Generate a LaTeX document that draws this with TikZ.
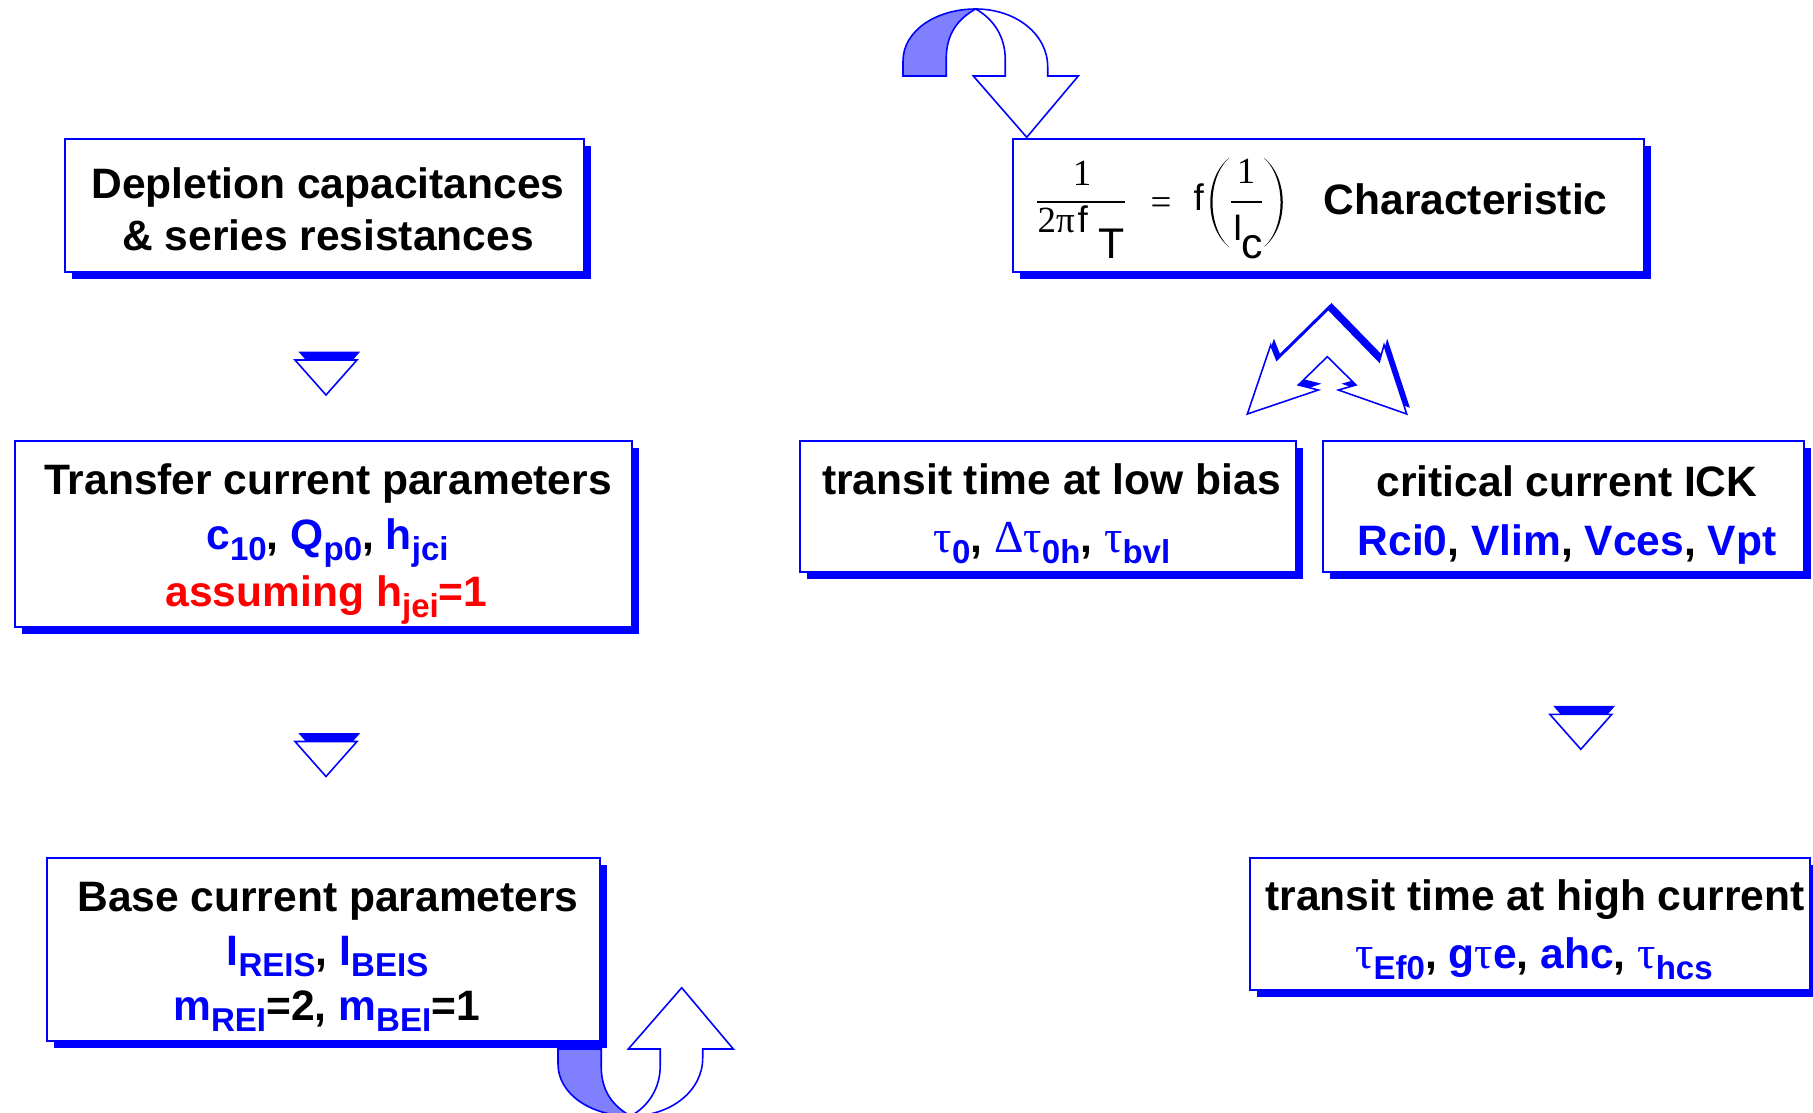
\documentclass[tikz,border=0pt]{standalone}
\usepackage{fontspec}
\setmainfont{Liberation Serif}
\setsansfont{Liberation Sans}
\usetikzlibrary{shadows}
\definecolor{pb}{RGB}{0,0,255}
\definecolor{lb}{RGB}{128,128,255}
\definecolor{pr}{RGB}{255,0,0}
\newcommand\sbs[1]{\raisebox{-3.3pt}{\fontsize{9.4}{10}\selectfont #1}}
\newcommand\gk[1]{{\rmfamily\mdseries\fontsize{13}{14}\selectfont #1}}
\newcommand\curvedarrowshape{%
  \filldraw[draw=pb, fill=lb, line width=0.45pt] (-72.7,67) -- (-72.7,52) .. controls (-72.7,22) and (-40,0) .. (0,0) .. controls (-18,10) and (-29.5,25) .. (-29.5,50) -- (-29.5,67) -- cycle;
  \filldraw[draw=pb, fill=white, line width=0.45pt] (0,0) .. controls (40,0) and (72,25) .. (72,58) -- (72,67) -- (102.6,67) -- (51,128.3) -- (-2.4,67) -- (29.5,67) -- (29.5,50) .. controls (29.5,28) and (18,10) .. (0,0) -- cycle;
}
\newcommand\downtri[2]{%
  \begin{scope}[shift={(#1,#2)}]
    \fill[pb] (-27.7,-8.5) -- (34.3,-8.5) -- (3.3,26.5) -- cycle;
    \filldraw[draw=pb, fill=white, line width=0.45pt] (-31,0) -- (31,0) -- (0,35) -- cycle;
  \end{scope}}
\newcommand\dblarrowpath{(1328.3,309.3) -- (1276.7,360) -- (1270.7,345) -- (1247.3,414) -- (1318.3,390) -- (1298.3,385) -- (1327.3,356.7) -- (1356,385) -- (1338.3,390) -- (1406.7,414) -- (1384,345) -- (1379.3,361.7) -- cycle}
\begin{document}
\begin{tikzpicture}[x=0.01cm,y=-0.01cm,
  box/.style={draw=pb, line width=0.45pt, fill=white, inner sep=0pt,
    general shadow={fill=pb, shadow xshift=0.07cm, shadow yshift=-0.07cm}},
  tl/.style={inner sep=0pt, anchor=base, font=\sffamily\bfseries\fontsize{12.1}{14.5}\selectfont},
  fs/.style={inner sep=0pt, font=\rmfamily\fontsize{10.5}{12}\selectfont},
  fa/.style={inner sep=0pt, font=\sffamily\fontsize{10.5}{12}\selectfont},
  fb/.style={inner sep=0pt, font=\sffamily\fontsize{12.2}{14}\selectfont},
]
\useasboundingbox (0,0) rectangle (1813,1112);
\fill[white] (0,0) rectangle (1813,1112);

% curved arrows
\begin{scope}[shift={(975.7,9)}]
  \curvedarrowshape
\end{scope}
\begin{scope}[shift={(630.7,1116)}, yscale=-1]
  \curvedarrowshape
\end{scope}

% double arrow
\begin{scope}[shift={(3.2,-6.3)}]
  \fill[pb] \dblarrowpath;
\end{scope}
\filldraw[draw=pb, fill=white, line width=0.45pt, line join=miter] \dblarrowpath;

% small down triangles
\downtri{326}{360}
\downtri{326}{741.5}
\downtri{1580.8}{714.3}

% boxes
\node[box, minimum width=5.19cm, minimum height=1.33cm] (dep) at (324.5,205.5) {};
\node[box, minimum width=6.31cm, minimum height=1.33cm] (chr) at (1328.5,205.5) {};
\node[box, minimum width=6.17cm, minimum height=1.86cm] (trf) at (323.5,534) {};
\node[box, minimum width=4.96cm, minimum height=1.31cm] (low) at (1048,506.5) {};
\node[box, minimum width=4.81cm, minimum height=1.31cm] (ick) at (1563.5,506.5) {};
\node[box, minimum width=5.53cm, minimum height=1.83cm] (bas) at (323.5,949.5) {};
\node[box, minimum width=5.6cm, minimum height=1.32cm] (hig) at (1530,924) {};

% texts
\node[tl] (dep1) at (328,198.4) {Depletion capacitances};
\node[tl] (dep2) at (328,250.4) {\& series resistances};

\node[tl] (trf1) at (328,494) {Transfer current parameters};
\node[tl] (trf2) at (327.5,549) {{\color{pb}c\sbs{10}}, {\color{pb}Q\sbs{p0}}, {\color{pb}h\sbs{jci}}};
\node[tl] (trf3) at (326.5,606) {\color{pr}assuming h\sbs{jei}=1};

\node[tl] (bas1) at (328,911) {Base current parameters};
\node[tl] (bas2) at (327.5,965) {{\color{pb}I\sbs{REIS}}, {\color{pb}I\sbs{BEIS}}};
\node[tl] (bas3) at (326.5,1020) {{\color{pb}m\sbs{REI}}=2, {\color{pb}m\sbs{BEI}}=1};

\node[tl] (low1) at (1051.5,494) {transit time at low bias};
\node[tl] (low2) at (1052,552) {{\color{pb}\gk{τ}\sbs{0}}, {\color{pb}\gk{Δτ}\sbs{0h}}, {\color{pb}\gk{τ}\sbs{bvl}}};

\node[tl] (ick1) at (1567,496) {critical current ICK};
\node[tl] (ick2) at (1567,555) {{\color{pb}Rci0}, {\color{pb}Vlim}, {\color{pb}Vces}, {\color{pb}Vpt}};

\node[tl] (hig1) at (1535,910.5) {transit time at high current};
\node[tl] (hig2) at (1534,968) {{\color{pb}\gk{τ}\sbs{Ef0}}, {\color{pb}g\gk{τ}e}, {\color{pb}ahc}, {\color{pb}\gk{τ}\sbs{hcs}}};

% formula in the characteristic box
\node[fs, anchor=base] (fn1) at (1082,185) {1};
\draw[line width=0.45pt] (1037,202) -- (1125,202);
\node[fs, anchor=base west] (fd1) at (1037,232) {2π};
\node[fa, anchor=base west] (fd2) at (1077,232) {f};
\node[fb, anchor=base west] (fd3) at (1098,258) {T};
\node[fs, anchor=base] (feq) at (1161,214) {=};
\node[fa, anchor=base west] (ff) at (1193,210) {f};
\fill (1229,158) .. controls (1204,178) and (1204,227) .. (1229,247) .. controls (1207,227) and (1207,178) .. (1229,158) -- cycle;
\node[fs, anchor=base] (fn2) at (1246,183) {1};
\draw[line width=0.45pt] (1231,202) -- (1262,202);
\node[fa, anchor=base west] (fi) at (1232,240) {I};
\node[fb, anchor=base west] (fc) at (1241,258) {c};
\fill (1264,158) .. controls (1289,178) and (1289,227) .. (1264,247) .. controls (1286,227) and (1286,178) .. (1264,158) -- cycle;
\node[tl, anchor=base west] (chrt) at (1323,214) {Characteristic};
\end{tikzpicture}
\end{document}
